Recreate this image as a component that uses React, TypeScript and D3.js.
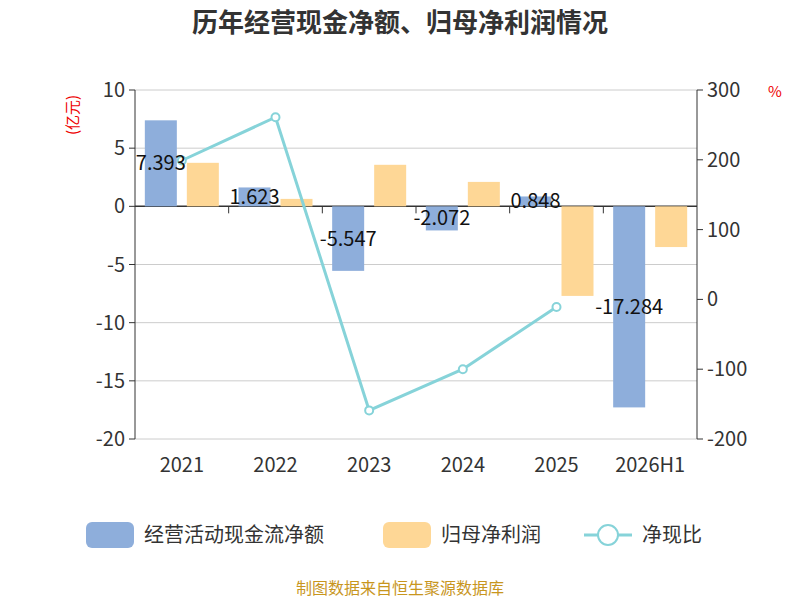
import React from "react";
import * as d3 from "d3";

const categories = ["2021", "2022", "2023", "2024", "2025", "2026H1"];
const cashFlow = [7.393, 1.623, -5.547, -2.072, 0.848, -17.284];
const netProfit = [3.74, 0.64, 3.57, 2.1, -7.7, -3.5];
const ratio: (number | null)[] = [199, 261, -159, -100, -11, null];
const leftTicks = [10, 5, 0, -5, -10, -15, -20];
const rightTicks = [300, 200, 100, 0, -100, -200];

export default function App() {
  const W = 800, H = 600;
  const L = 135, R = 697, T = 90, B = 439;
  const x = d3.scaleBand().domain(categories).range([L, R]);
  const yl = d3.scaleLinear().domain([-20, 10]).range([B, T]);
  const yr = d3.scaleLinear().domain([-200, 300]).range([B, T]);
  const bw = 32;
  const font = "'Noto Sans CJK SC','Noto Sans',sans-serif";
  const pts = categories
    .map((c, i) => ({ c, v: ratio[i] }))
    .filter((d) => d.v !== null) as { c: string; v: number }[];
  const line = d3
    .line<{ c: string; v: number }>()
    .x((d) => x(d.c)! + x.bandwidth() / 2)
    .y((d) => yr(d.v));
  return (
    <svg width={W} height={H} style={{ position: "absolute", left: 0, top: 0, fontFamily: font }}>
      <rect width={W} height={H} fill="#fff" />
      <text x={400} y={32} textAnchor="middle" fontSize={26} fontWeight="bold" fill="#333">
        历年经营现金净额、归母净利润情况
      </text>
      {leftTicks.map((t) => (
        <g key={t}>
          <line x1={L} x2={R} y1={yl(t)} y2={yl(t)} stroke={t === 0 ? "#333" : "#ccc"} strokeWidth={t === 0 ? 1.5 : 1} />
          <line x1={L - 6} x2={L} y1={yl(t)} y2={yl(t)} stroke="#333" />
          <text x={L - 10} y={yl(t)} dy="0.35em" textAnchor="end" fontSize={20} fill="#333">{t}</text>
        </g>
      ))}
      {rightTicks.map((t) => (
        <g key={t}>
          <line x1={R} x2={R + 6} y1={yr(t)} y2={yr(t)} stroke="#333" />
          <text x={R + 10} y={yr(t)} dy="0.35em" fontSize={20} fill="#333">{t}</text>
        </g>
      ))}
      <line x1={L} x2={L} y1={T} y2={B} stroke="#333" />
      <line x1={R} x2={R} y1={T} y2={B} stroke="#333" />
      {categories.map((c, i) => (
        <g key={c}>
          {i > 0 && <line x1={x(c)!} x2={x(c)!} y1={yl(0)} y2={yl(0) + 7} stroke="#333" />}
          <text x={x(c)! + x.bandwidth() / 2} y={472} textAnchor="middle" fontSize={20} fill="#333">{c}</text>
        </g>
      ))}
      <text transform="translate(78,115) rotate(-90)" textAnchor="middle" fontSize={15} fill="#e00">(亿元)</text>
      <text x={775} y={97} textAnchor="middle" fontSize={15} fill="#e00">%</text>
      {categories.map((c, i) => {
        const cx = x(c)! + x.bandwidth() / 2;
        return (
          <g key={c}>
            <rect x={cx - bw - 5} y={yl(Math.max(0, cashFlow[i]))} width={bw} height={Math.abs(yl(cashFlow[i]) - yl(0))} fill="#8eaedb" />
            <rect x={cx + 5} y={yl(Math.max(0, netProfit[i]))} width={bw} height={Math.abs(yl(netProfit[i]) - yl(0))} fill="#fed796" />
          </g>
        );
      })}
      <path d={line(pts)!} fill="none" stroke="#86d3d9" strokeWidth={3} />
      {pts.map((d) => (
        <circle key={d.c} cx={x(d.c)! + x.bandwidth() / 2} cy={yr(d.v)} r={4} fill="#fff" stroke="#86d3d9" strokeWidth={2} />
      ))}
      {categories.map((c, i) => (
        <text key={c} x={x(c)! + x.bandwidth() / 2 - 21} y={(yl(cashFlow[i]) + yl(0)) / 2} dy="0.35em" textAnchor="middle" fontSize={20} fill="#111">
          {cashFlow[i]}
        </text>
      ))}
      <g fontSize={20} fill="#333">
        <rect x={86} y={522} width={48} height={26} rx={6} fill="#8eaedb" />
        <text x={144} y={535} dy="0.35em">经营活动现金流净额</text>
        <rect x={383} y={522} width={48} height={26} rx={6} fill="#fed796" />
        <text x={441} y={535} dy="0.35em">归母净利润</text>
        <line x1={584} x2={632} y1={535} y2={535} stroke="#86d3d9" strokeWidth={3} />
        <circle cx={608} cy={535} r={10} fill="#fff" stroke="#86d3d9" strokeWidth={2} />
        <text x={642} y={535} dy="0.35em">净现比</text>
      </g>
      <text x={400} y={594} textAnchor="middle" fontSize={16} fill="#c8961e">制图数据来自恒生聚源数据库</text>
    </svg>
  );
}
